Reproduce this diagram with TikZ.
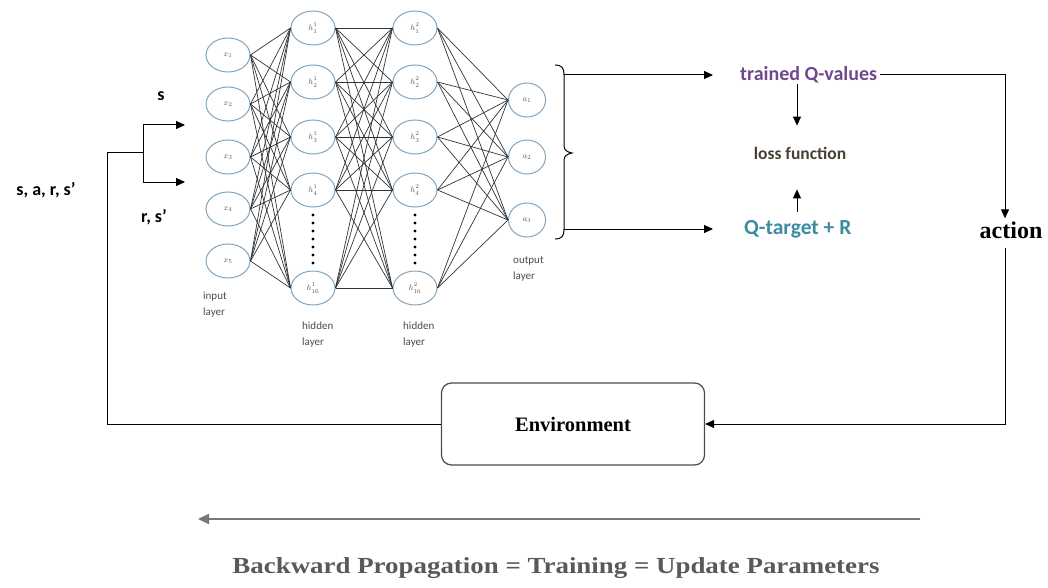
\documentclass[tikz,border=0pt]{standalone}
\usepackage{fontspec}
\setmainfont{Liberation Serif}
\newfontfamily\calibri{Carlito}
\usetikzlibrary{shapes.geometric,arrows.meta}

\definecolor{neuronblue}{RGB}{130,165,190}
\definecolor{qpurple}{RGB}{112,72,140}
\definecolor{qteal}{RGB}{60,140,160}
\definecolor{lossolive}{RGB}{70,65,50}
\definecolor{backgray}{RGB}{120,120,120}

% hidden-unit label: h with layer index above and unit index below
\newcommand\hlab[2]{$h^{\raisebox{1pt}{$\scriptstyle #1$}}_{\raisebox{-1pt}{$\scriptstyle #2$}}$}

\begin{document}
\begin{tikzpicture}[x=1pt,y=-1pt,
  neuron/.style={ellipse, draw=neuronblue, line width=1pt, minimum width=44pt,
    minimum height=34pt, inner sep=0pt, font=\fontsize{8.5}{9}\selectfont, text=black!65},
  outneuron/.style={neuron, minimum width=37pt},
  wire/.style={draw=black!80, line width=0.7pt},
  flow/.style={line width=1pt, -{Triangle[length=9pt,width=8pt]}},
  plain/.style={line width=1pt},
  annot/.style={font=\calibri\bfseries\fontsize{20}{22}\selectfont, inner sep=3pt},
  sidetag/.style={font=\calibri\bfseries\fontsize{18}{20}\selectfont, inner sep=2pt},
  layertag/.style={font=\calibri\fontsize{11}{16}\selectfont, text=black!70, align=left, anchor=north west, inner sep=0pt},
  ndot/.style={circle, fill=black, inner sep=0pt, minimum size=3.4pt}
]
\useasboundingbox (0,0) rectangle (1048,588);

% ---- neural network ----
\foreach \i/\y in {1/55,2/104,3/157,4/209,5/261}
  \node[neuron] (x\i) at (228,\y) {$x_{\i}$};
\foreach \i/\y/\t in {1/28/1,2/82/2,3/137/3,4/190/4,5/288/16} {
  \node[neuron] (h\i) at (313,\y) {\hlab{1}{\t}};
  \node[neuron] (g\i) at (415,\y) {\hlab{2}{\t}};
}
\foreach \i/\y in {1/100,2/157,3/220}
  \node[outneuron] (a\i) at (527,\y) {$a_{\i}$};

\foreach \i in {1,...,5}
  \foreach \j in {1,...,5} {
    \draw[wire] (x\i.east) -- (h\j.west);
    \draw[wire] (h\i.east) -- (g\j.west);
  }
\foreach \i in {1,...,5}
  \foreach \j in {1,2,3}
    \draw[wire] (g\i.east) -- (a\j.west);

\foreach \k in {0,...,6} {
  \node[ndot] (d1\k) at (313,215+8*\k) {};
  \node[ndot] (d2\k) at (415,215+8*\k) {};
}

\node[layertag] (tagin)  at (203,292) {input\\layer};
\node[layertag] (taghA)  at (302,322) {hidden\\layer};
\node[layertag] (taghB)  at (403,322) {hidden\\layer};
\node[layertag] (tagout) at (513,256) {output\\layer};

% ---- brace over the output layer ----
\draw[plain] (555,65) .. controls (562,65) and (564,68) .. (564,75)
  -- (564,146) .. controls (564,150) and (567,152) .. (572,153)
  .. controls (567,154) and (564,156) .. (564,160)
  -- (564,229) .. controls (564,236) and (562,239) .. (555,239);
\coordinate (braceTop) at (564,75);
\coordinate (braceBot) at (564,229);

% ---- Q-learning side ----
\node[annot, text=qpurple, anchor=west]  (tq)   at (737,75)  {trained Q-values};
\node[annot, text=lossolive, font=\calibri\bfseries\fontsize{17.5}{20}\selectfont] (loss) at (800,153) {loss function};
\node[annot, text=qteal, anchor=west, font=\calibri\bfseries\fontsize{21.5}{23}\selectfont] (qt) at (741,229) {Q-target + R};
\node[font=\bfseries\fontsize{24}{26}\selectfont, inner sep=3pt] (act) at (1011,230) {action};

\draw[flow, shorten >=24pt] (braceTop) -- (tq.west);
\draw[flow, shorten >=28pt] (braceBot) -- (qt.west);
\draw[flow, shorten <=-2pt, shorten >=18pt] ([xshift=-3pt]loss.north |- tq.south) -- ([xshift=-3pt]loss.north);
\draw[flow, shorten <=5pt, shorten >=27pt] ([xshift=-3pt]loss.south |- qt.north) -- ([xshift=-3pt]loss.south);
\draw[flow] (tq.east) -| ([xshift=-6pt]act.north);

% ---- environment loop ----
\node[draw=black!70, line width=1.2pt, rounded corners=10pt, minimum width=263pt,
  minimum height=82pt, font=\bfseries\fontsize{20.5}{22}\selectfont] (env) at (573,424) {Environment};
\draw[flow, shorten <=6pt] ([xshift=-6pt]act.south) |- (env.east);

\coordinate (loopL) at (107,153);
\coordinate (split) at (143,153);
\coordinate (sIn) at (185,125);
\coordinate (rIn) at (185,182);
\draw[plain] (env.west) -| (loopL) -- (split);
\draw[flow] (split) |- (sIn);
\draw[flow] (split) |- (rIn);

\node[sidetag] (lblS)    at (161,96)  {s};
\node[sidetag] (lblRS)   at (154,217) {r, s’};
\node[sidetag] (lblSARS) at (46,190)  {s, a, r, s’};

% ---- backward propagation ----
\coordinate (bpR) at (920,519);
\coordinate (bpL) at (198,519);
\draw[draw=backgray, line width=2pt, -{Triangle[length=11pt,width=10pt]}] (bpR) -- (bpL);
\node[font=\bfseries\fontsize{23}{25}\selectfont, text=black!65] (bp) at (556,568)
  {\scalebox{1.17}[1]{Backward Propagation = Training = Update Parameters}};
\end{tikzpicture}
\end{document}
